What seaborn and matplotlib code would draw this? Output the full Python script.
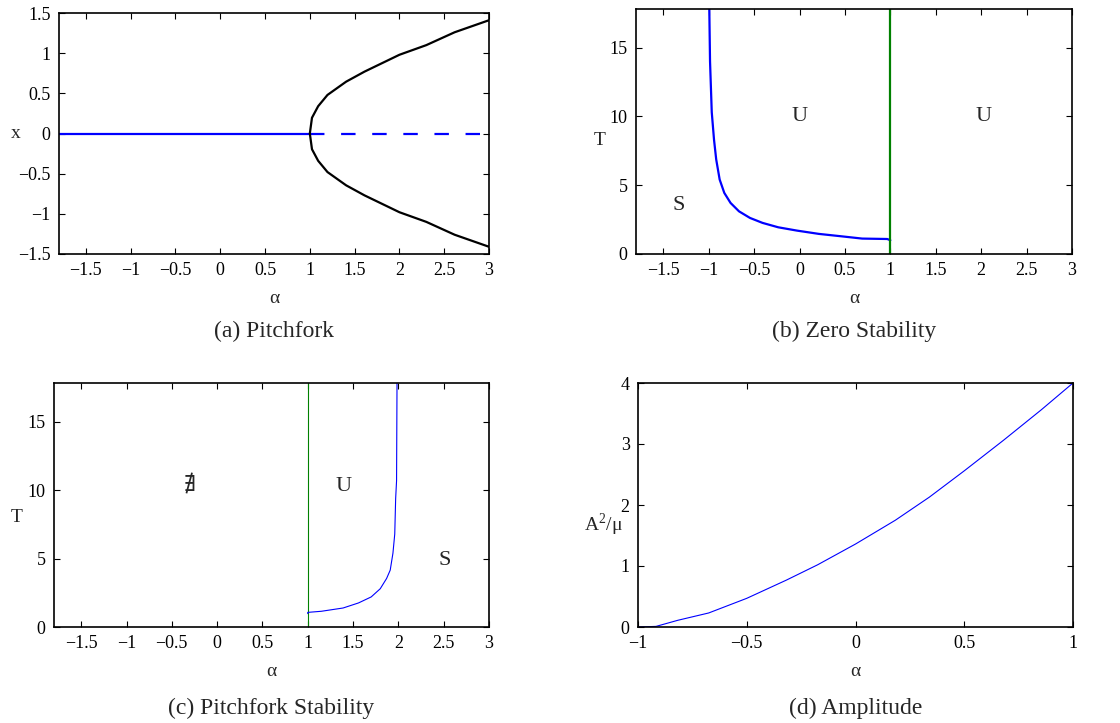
import matplotlib
matplotlib.use("Agg")
from matplotlib import pyplot as plt
import pandas as pd
import seaborn as sns

# (a) Pitchfork: branches
alpha_stable = [-1.8, 1.0]
x_stable = [0.0, 0.0]
alpha_unstable = [1.0, 3.0]
x_unstable = [0.0, 0.0]
alpha_branch = [1.0, 1.024, 1.093, 1.197, 1.405, 1.61, 2.0, 2.3, 2.616, 3.0]
x_branch = [0.0, 0.196, 0.34, 0.48, 0.645, 0.77, 0.98, 1.10, 1.26, 1.41]

# (b) Zero stability boundary
alpha_zero = [-0.993, -0.985, -0.966, -0.941, -0.917, -0.879, -0.828, -0.759, -0.666,
              -0.545, -0.407, -0.234, -0.028, 0.214, 0.455, 0.69, 0.966, 1.0]
T_zero = [17.8, 14.0, 10.3, 8.3, 6.87, 5.41, 4.44, 3.71, 3.1,
          2.62, 2.26, 1.94, 1.7, 1.46, 1.29, 1.12, 1.09, 1.0]

# (c) Pitchfork stability boundary
alpha_pf = [1.0, 1.0, 1.15, 1.39, 1.56, 1.70, 1.80, 1.87, 1.91, 1.94, 1.96, 1.97, 1.98, 1.985]
T_pf = [0.98, 1.07, 1.15, 1.39, 1.76, 2.2, 2.8, 3.55, 4.16, 5.4, 6.8, 9.4, 10.7, 17.85]

# (d) Amplitude
alpha_amp = [-1.0, -0.917, -0.817, -0.675, -0.5, -0.317, -0.174, 0.0, 0.183, 0.34,
             0.5, 0.68, 0.854, 1.0]
amp = [0.0, 0.01, 0.11, 0.23, 0.47, 0.77, 1.02, 1.36, 1.75, 2.13,
       2.56, 3.06, 3.56, 4.0]

alpha_ticks = [-1.5, -1, -0.5, 0, 0.5, 1, 1.5, 2, 2.5, 3]
alpha_ticklabels = ["\u22121.5", "\u22121", "\u22120.5", "0", "0.5", "1", "1.5", "2", "2.5", "3"]
x_ticks = [-1.5, -1, -0.5, 0, 0.5, 1, 1.5]
x_ticklabels = ["\u22121.5", "\u22121", "\u22120.5", "0", "0.5", "1", "1.5"]

sns.set_style("ticks")
plt.rcParams["font.family"] = ["Liberation Serif", "DejaVu Serif"]
plt.rcParams["mathtext.fontset"] = "custom"
plt.rcParams["mathtext.rm"] = "Liberation Serif"

BLUE = (0, 0, 1)
GREEN = (0, 0.5, 0)
W, H = 1120, 723
fs_tick = 13
fs_label = 14
fs_region = 16
fs_caption = 17


def axes_px(left, top, right, bottom):
    return fig.add_axes([left / W, 1 - bottom / H, (right - left) / W, (bottom - top) / H])


def style(ax, xticks, xlabels, caption, cap_y, ylabel, ylab_xy):
    ax.set_xticks(xticks)
    ax.set_xticklabels(xlabels)
    ax.tick_params(direction="in", top=True, right=True, length=4, width=0.8,
                   labelsize=fs_tick, colors="black", pad=6)
    for s in ax.spines.values():
        s.set_visible(True)
        s.set_linewidth(1.2)
        s.set_color("black")
    ax.set_xlabel("\u03b1", fontsize=fs_label, labelpad=8)
    ax.set_ylabel(ylabel, fontsize=fs_label, rotation=0, ha="center", va="center")
    ax.yaxis.set_label_coords(*ylab_xy)
    ax.text(0.5, cap_y, caption, transform=ax.transAxes, ha="center", va="center",
            fontsize=fs_caption)


def line(ax, x, y, color, lw, **kw):
    df = pd.DataFrame({"a": x, "b": y})
    sns.lineplot(data=df, x="a", y="b", ax=ax, color=color, linewidth=lw,
                 sort=False, estimator=None, **kw)
    ax.set_xlabel("")
    ax.set_ylabel("")


fig = plt.figure(figsize=(W / 100, H / 100), dpi=100)

# (a)
ax = axes_px(59, 13, 489, 254)
line(ax, alpha_stable, x_stable, BLUE, 1.6)
line(ax, alpha_unstable, x_unstable, BLUE, 1.6)
ax.lines[-1].set_dashes([6.5, 7.5])
line(ax, alpha_branch, x_branch, "black", 1.6)
line(ax, alpha_branch, [-v for v in x_branch], "black", 1.6)
ax.set_xlim(-1.8, 3)
ax.set_ylim(-1.5, 1.5)
ax.set_yticks(x_ticks)
ax.set_yticklabels(x_ticklabels)
style(ax, alpha_ticks, alpha_ticklabels, "(a) Pitchfork", -0.32, "x", (-0.10, 0.50))

# (b)
ax = axes_px(636, 9, 1072, 254)
line(ax, alpha_zero, T_zero, BLUE, 1.6)
line(ax, [1, 1], [0, 17.8], GREEN, 1.6)
ax.set_xlim(-1.8, 3)
ax.set_ylim(0, 17.8)
ax.set_yticks([0, 5, 10, 15])
ax.text(-1.33, 3.5, "S", fontsize=fs_region, ha="center", va="center")
ax.text(0.0, 10.0, "U", fontsize=fs_region, ha="center", va="center")
ax.text(2.03, 10.0, "U", fontsize=fs_region, ha="center", va="center")
style(ax, alpha_ticks, alpha_ticklabels, "(b) Zero Stability", -0.314, "T", (-0.083, 0.465))

# (c)
ax = axes_px(54, 383, 489, 627)
line(ax, [1, 1], [0, 17.85], GREEN, 0.8)
line(ax, alpha_pf, T_pf, BLUE, 0.8)
ax.set_xlim(-1.8, 3)
ax.set_ylim(0, 17.85)
ax.set_yticks([0, 5, 10, 15])
ax.text(-0.3, 10.3, "\u2204", fontsize=fs_region, ha="center", va="center")
ax.text(1.40, 10.3, "U", fontsize=fs_region, ha="center", va="center")
ax.text(2.51, 4.9, "S", fontsize=fs_region, ha="center", va="center")
style(ax, alpha_ticks, alpha_ticklabels, "(c) Pitchfork Stability", -0.332, "T", (-0.085, 0.447))

# (d)
ax = axes_px(638, 383, 1073, 627)
line(ax, alpha_amp, amp, BLUE, 0.8)
ax.set_xlim(-1, 1)
ax.set_ylim(0, 4)
ax.set_yticks([0, 1, 2, 3, 4])
style(ax, [-1, -0.5, 0, 0.5, 1], ["\u22121", "\u22120.5", "0", "0.5", "1"],
      "(d) Amplitude", -0.332, "A$^2$/\u03bc", (-0.08, 0.418))

fig.savefig("out.png", dpi=100, facecolor="white")
